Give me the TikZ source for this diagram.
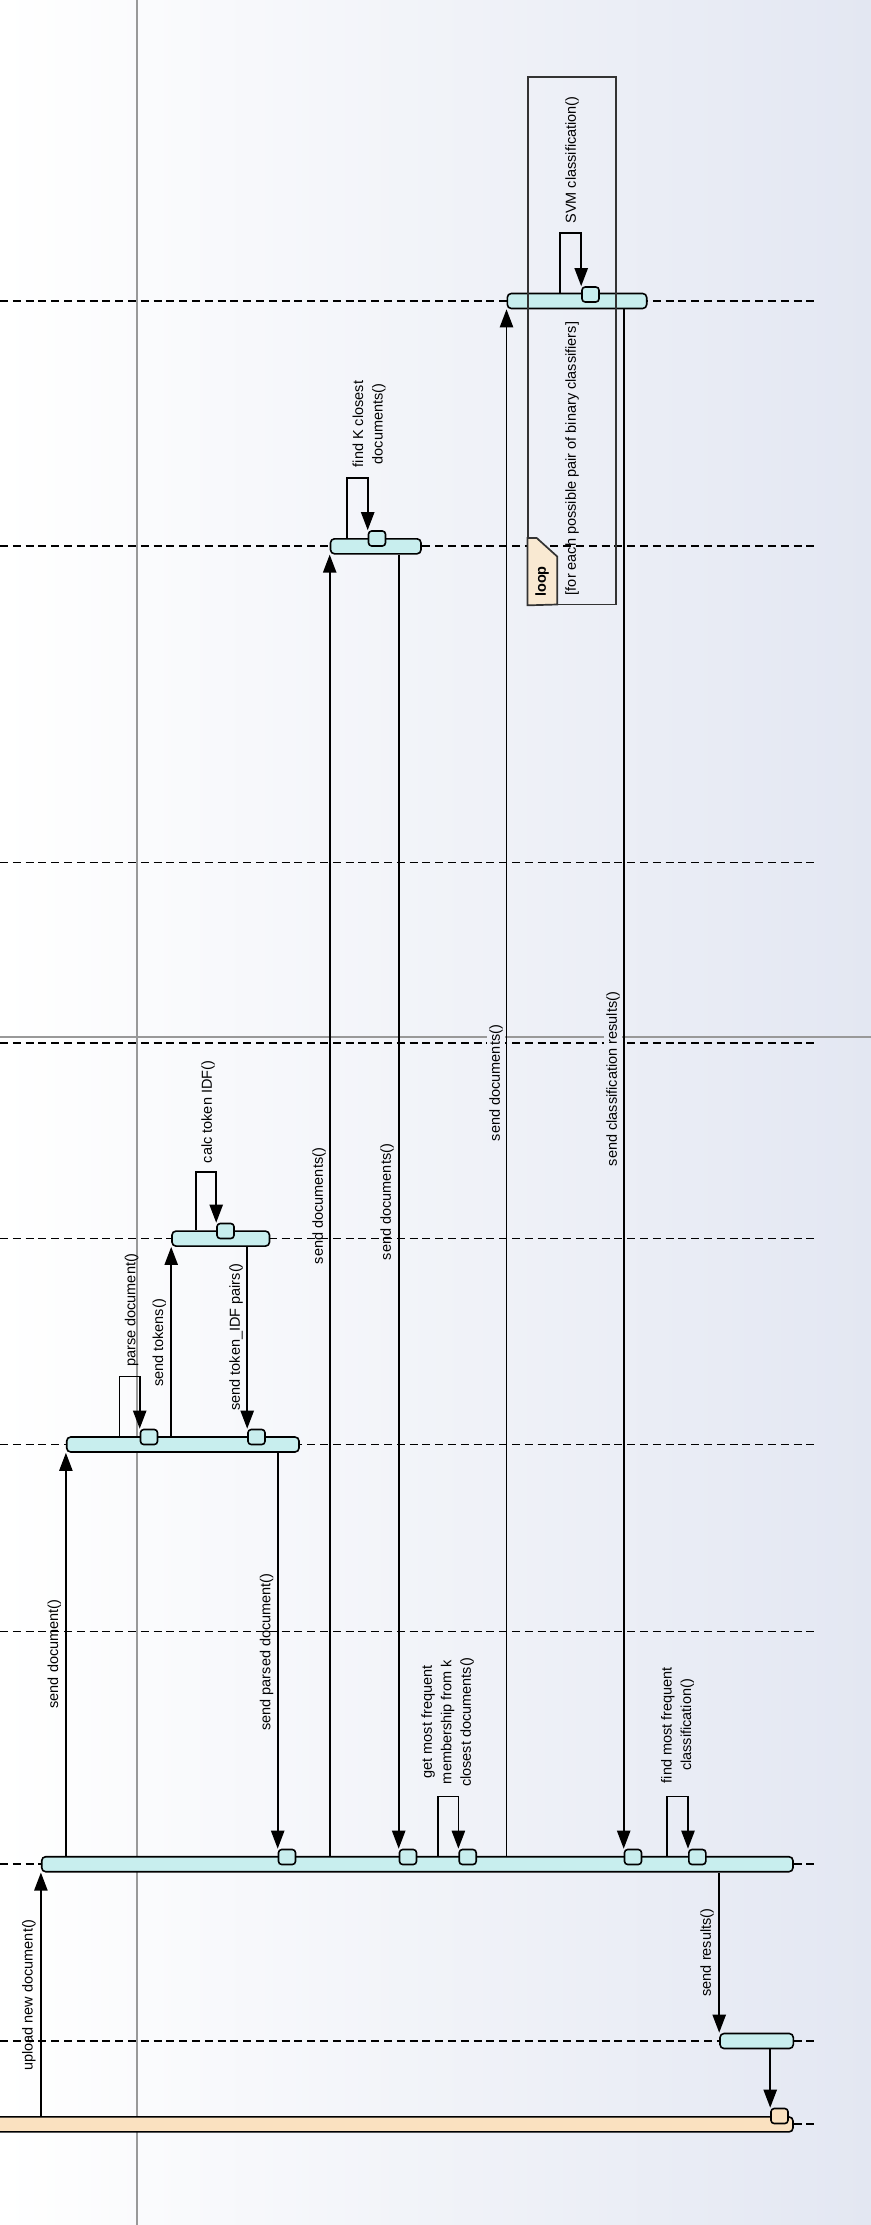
\documentclass[tikz,border=0pt]{standalone}
\usepackage{fontspec}
\setmainfont{Liberation Sans}
\usetikzlibrary{arrows.meta}
\definecolor{bgend}{HTML}{E3E7F2}
\definecolor{actfill}{HTML}{C8EEEE}
\definecolor{userfill}{HTML}{FAE1C0}
\definecolor{tabfill}{HTML}{F9E9D2}
\definecolor{sepgray}{HTML}{999999}
\tikzset{
  lifeline/.style={line width=0.8pt, dash pattern=on 4pt off 2.4pt},
  act/.style 2 args={draw, fill=actfill, rounded corners=2pt, line width=0.8pt,
    inner sep=0pt, minimum width=#1*0.5pt, minimum height=#2*0.5pt},
  occ/.style={draw, fill=actfill, rounded corners=1.6pt, line width=0.8pt,
    inner sep=0pt, minimum width=8.5pt, minimum height=7.5pt},
  msg/.style={line width=0.85pt, -{Triangle[length=9pt,width=6.6pt]}},
  lbl/.style={rotate=90, font=\fontsize{7.25}{9.75}\selectfont, align=center, inner sep=1pt}
}
\begin{document}
\begin{tikzpicture}[x=0.5pt,y=-0.5pt]
\useasboundingbox (0,0) rectangle (871,2225);
\shade[left color=white, right color=bgend] (0,0) rectangle (871,2225);
\draw[sepgray, line width=1.4pt] (137,0) -- (137,2225);
\draw[sepgray, line width=1.4pt] (0,1037) -- (871,1037);
% lifelines
\foreach \ly in {301,546,862.5,1043,1238.6,1444.5,1631.4,1864.2,2041,2124}
  \draw[lifeline] (0,\ly) -- (814,\ly);

% activations
\node[act={139.4}{15}] (svm) at (577,301) {};
\node[act={90.5}{15}] (kbar) at (375.75,546.3) {};
\node[act={97.5}{15}] (calc) at (220.75,1238.6) {};
\node[act={232.3}{15}] (parse) at (182.85,1444.5) {};
\node[act={751.3}{15}] (main) at (417.35,1864.2) {};
\node[act={73.3}{15}] (res) at (756.65,2041) {};
\node[act={803}{15}, fill=userfill] (user) at (391.5,2124.4) {};

\node[occ] (svmbox) at (590.5,294.5) {};
\node[occ] (kbox) at (377,538.5) {};
\node[occ] (calcbox) at (225.5,1231) {};
\node[occ] (pbox1) at (149,1437) {};
\node[occ] (pbox2) at (256.5,1437) {};
\node[occ] (mbox1) at (287,1857) {};
\node[occ] (mbox2) at (408,1857) {};
\node[occ] (mbox3) at (467.7,1857) {};
\node[occ] (mbox4) at (633,1857) {};
\node[occ] (mbox5) at (697.3,1857) {};
\node[occ, fill=userfill] (ubox) at (779.5,2116) {};

% self message corners
\coordinate (stop) at (560,233);
\coordinate (ktop) at (347,478);
\coordinate (ctop) at (195.7,1171.7);
\coordinate (ptop) at (119.4,1376.4);
\coordinate (mtop1) at (437.8,1796.4);
\coordinate (mtop2) at (666.7,1796.4);

% messages
\draw[msg] (user.north -| main.south west) -- (main.south west);
\draw[msg] (main.north -| parse.south west) -- (parse.south west);
\draw[msg] (parse.north -| ptop) |- (pbox1.north west |- ptop) -- (pbox1.north west);
\draw[msg] (parse.north -| calc.south west) -- (calc.south west);
\draw[msg] (calc.north -| ctop) |- (calcbox.north west |- ctop) -- (calcbox.north west);
\draw[msg] (calc.south -| pbox2.north west) -- (pbox2.north west);
\draw[msg] (parse.south -| mbox1.north west) -- (mbox1.north west);
\draw[msg] (main.north -| kbar.south west) -- (kbar.south west);
\draw[msg] (kbar.north -| ktop) |- (kbox.north west |- ktop) -- (kbox.north west);
\draw[msg] (kbar.south -| mbox2.north west) -- (mbox2.north west);
\draw[msg] (main.north -| mtop1) |- (mbox3.north west |- mtop1) -- (mbox3.north west);
\draw[msg] (main.north -| svm.south west) -- (svm.south west);
\draw[msg] (svm.north -| stop) |- (svmbox.north west |- stop) -- (svmbox.north west);
\draw[msg] (svm.south -| mbox4.north west) -- (mbox4.north west);
\draw[msg] (main.north -| mtop2) |- (mbox5.north west |- mtop2) -- (mbox5.north west);
\draw[msg] (main.south -| res.north west) -- (res.north west);
\draw[msg] (res.south -| ubox.north west) -- (ubox.north west);

% loop fragment
\node[draw=black!80, line width=0.85pt, minimum width=43.7pt, minimum height=263.75pt,
  inner sep=0pt] (loopfrm) at (572,340.75) {};
\draw[black!80, line width=0.85pt, fill=tabfill] (loopfrm.west |- 0,538) -- (536.7,538)
  -- (557.3,556.6) -- (557.3,604.5) -- (loopfrm.south west) -- cycle;
\node[lbl, font=\fontsize{7.25}{9.75}\selectfont\bfseries] (looptxt) at (542,581.5) {loop};
\node[lbl] (guard) at (572,458.5) {[for each possible pair of binary classifiers]};

% labels
\node[lbl] (lupload) at (29,1995) {upload new document()};
\node[lbl] (lsenddoc) at (54.4,1654) {send document()};
\node[lbl] (lparse) at (131.7,1310) {parse document()};
\node[lbl] (ltokens) at (159.4,1343) {send tokens()};
\node[lbl] (lcalc) at (208,1112) {calc token IDF()};
\node[lbl] (lpairs) at (236,1337) {send token\_IDF pairs()};
\node[lbl] (lparsed) at (266.7,1652) {send parsed document()};
\node[lbl] (ldocsk) at (319,1206) {send documents()};
\node[lbl] (lfindk) at (369,424) {find K closest\\documents()};
\node[lbl] (ldocsback) at (387,1202) {send documents()};
\node[lbl] (lgetfreq) at (447.5,1722) {get most frequent\\membership from k\\closest documents()};
\node[lbl, fill=bgend!57!white] (ldocssvm) at (496,1083) {send documents()};
\node[lbl] (lsvm) at (572,160) {SVM classification()};
\node[lbl, fill=bgend!70!white] (lclsres) at (613,1079) {send classification results()};
\node[lbl] (lfindfreq) at (677.5,1725) {find most frequent\\classification()};
\node[lbl] (lresults) at (707,1952.5) {send results()};
\end{tikzpicture}
\end{document}
